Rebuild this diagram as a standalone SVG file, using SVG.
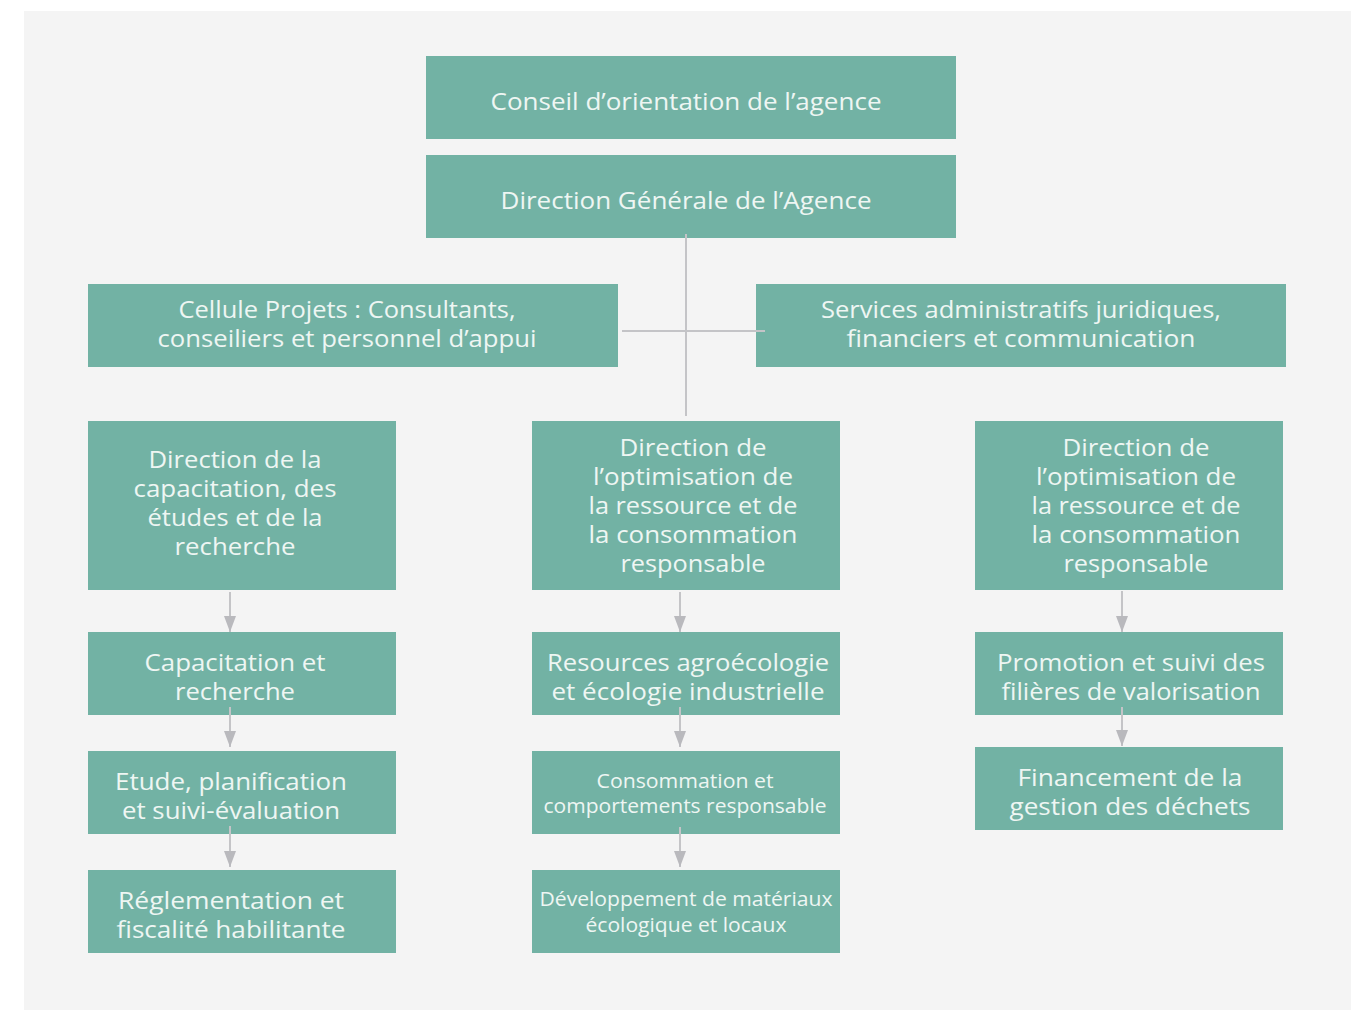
<svg xmlns="http://www.w3.org/2000/svg" width="1364" height="1011" viewBox="0 0 1364 1011">
<defs>
<style>
.box{fill:#72b2a4}
.t{font-family:"Open Sans","Noto Sans","DejaVu Sans",sans-serif;font-size:23px;fill:#eef6f3;text-anchor:middle}
.s{font-size:19.5px}
.ln{stroke:#c4c4c7;stroke-width:2;fill:none}
.ar{stroke:#c4c4c7;stroke-width:2;fill:none;marker-end:url(#ah)}
</style>
<marker id="ah" markerUnits="userSpaceOnUse" markerWidth="16" markerHeight="12" viewBox="0 0 16 12" refX="16" refY="6" orient="auto">
<path d="M0,0 L16,6 L0,12 z" fill="#b9b9bd"/>
</marker>
</defs>
<rect x="0" y="0" width="1364" height="1011" fill="#ffffff"/>
<rect x="24" y="11" width="1327" height="999" fill="#f4f4f4"/>

<g id="conseil">
<rect class="box" x="426" y="56" width="530" height="83"/>
<text class="t" x="686" y="110" textLength="391" lengthAdjust="spacingAndGlyphs">Conseil d’orientation de l’agence</text>
</g>
<g id="direction-generale">
<rect class="box" x="426" y="155" width="530" height="83"/>
<text class="t" x="686" y="209" textLength="371" lengthAdjust="spacingAndGlyphs">Direction Générale de l’Agence</text>
</g>
<g id="cellule-projets">
<rect class="box" x="88" y="284" width="530" height="83"/>
<text class="t" x="347" y="318" textLength="337" lengthAdjust="spacingAndGlyphs">Cellule Projets : Consultants,</text>
<text class="t" x="347" y="347" textLength="379" lengthAdjust="spacingAndGlyphs">conseiliers et personnel d’appui</text>
</g>
<g id="services-admin">
<rect class="box" x="756" y="284" width="530" height="83"/>
<text class="t" x="1021" y="318" textLength="400" lengthAdjust="spacingAndGlyphs">Services administratifs juridiques,</text>
<text class="t" x="1021" y="347" textLength="349" lengthAdjust="spacingAndGlyphs">financiers et communication</text>
</g>

<g id="dir-capacitation">
<rect class="box" x="88" y="421" width="308" height="169"/>
<text class="t" x="235" y="468" textLength="173" lengthAdjust="spacingAndGlyphs">Direction de la</text>
<text class="t" x="235" y="497" textLength="203" lengthAdjust="spacingAndGlyphs">capacitation, des</text>
<text class="t" x="235" y="526" textLength="175" lengthAdjust="spacingAndGlyphs">études et de la</text>
<text class="t" x="235" y="555" textLength="121" lengthAdjust="spacingAndGlyphs">recherche</text>
</g>
<g id="dir-optimisation-1">
<rect class="box" x="532" y="421" width="308" height="169"/>
<text class="t" x="693" y="456" textLength="147" lengthAdjust="spacingAndGlyphs">Direction de</text>
<text class="t" x="693" y="485" textLength="200" lengthAdjust="spacingAndGlyphs">l’optimisation de</text>
<text class="t" x="693" y="514" textLength="209" lengthAdjust="spacingAndGlyphs">la ressource et de</text>
<text class="t" x="693" y="543" textLength="209" lengthAdjust="spacingAndGlyphs">la consommation</text>
<text class="t" x="693" y="572" textLength="145" lengthAdjust="spacingAndGlyphs">responsable</text>
</g>
<g id="dir-optimisation-2">
<rect class="box" x="975" y="421" width="308" height="169"/>
<text class="t" x="1136" y="456" textLength="147" lengthAdjust="spacingAndGlyphs">Direction de</text>
<text class="t" x="1136" y="485" textLength="200" lengthAdjust="spacingAndGlyphs">l’optimisation de</text>
<text class="t" x="1136" y="514" textLength="209" lengthAdjust="spacingAndGlyphs">la ressource et de</text>
<text class="t" x="1136" y="543" textLength="209" lengthAdjust="spacingAndGlyphs">la consommation</text>
<text class="t" x="1136" y="572" textLength="145" lengthAdjust="spacingAndGlyphs">responsable</text>
</g>

<g id="capacitation-recherche">
<rect class="box" x="88" y="632" width="308" height="83"/>
<text class="t" x="235" y="671" textLength="181" lengthAdjust="spacingAndGlyphs">Capacitation et</text>
<text class="t" x="235" y="700" textLength="120" lengthAdjust="spacingAndGlyphs">recherche</text>
</g>
<g id="resources-agroecologie">
<rect class="box" x="532" y="632" width="308" height="83"/>
<text class="t" x="688" y="671" textLength="282" lengthAdjust="spacingAndGlyphs">Resources agroécologie</text>
<text class="t" x="688" y="700" textLength="273" lengthAdjust="spacingAndGlyphs">et écologie industrielle</text>
</g>
<g id="promotion-filieres">
<rect class="box" x="975" y="632" width="308" height="83"/>
<text class="t" x="1131" y="671" textLength="268" lengthAdjust="spacingAndGlyphs">Promotion et suivi des</text>
<text class="t" x="1131" y="700" textLength="259" lengthAdjust="spacingAndGlyphs">filières de valorisation</text>
</g>

<g id="etude-planification">
<rect class="box" x="88" y="751" width="308" height="83"/>
<text class="t" x="231" y="790" textLength="232" lengthAdjust="spacingAndGlyphs">Etude, planification</text>
<text class="t" x="231" y="819" textLength="218" lengthAdjust="spacingAndGlyphs">et suivi-évaluation</text>
</g>
<g id="consommation-comportements">
<rect class="box" x="532" y="751" width="308" height="83"/>
<text class="t s" x="685" y="788" textLength="177" lengthAdjust="spacingAndGlyphs">Consommation et</text>
<text class="t s" x="685" y="813" textLength="283" lengthAdjust="spacingAndGlyphs">comportements responsable</text>
</g>
<g id="financement-dechets">
<rect class="box" x="975" y="747" width="308" height="83"/>
<text class="t" x="1130" y="786" textLength="225" lengthAdjust="spacingAndGlyphs">Financement de la</text>
<text class="t" x="1130" y="815" textLength="241" lengthAdjust="spacingAndGlyphs">gestion des déchets</text>
</g>

<g id="reglementation-fiscalite">
<rect class="box" x="88" y="870" width="308" height="83"/>
<text class="t" x="231" y="909" textLength="226" lengthAdjust="spacingAndGlyphs">Réglementation et</text>
<text class="t" x="231" y="938" textLength="229" lengthAdjust="spacingAndGlyphs">fiscalité habilitante</text>
</g>
<g id="developpement-materiaux">
<rect class="box" x="532" y="870" width="308" height="83"/>
<text class="t s" x="686" y="906" textLength="293" lengthAdjust="spacingAndGlyphs">Développement de matériaux</text>
<text class="t s" x="686" y="932" textLength="201" lengthAdjust="spacingAndGlyphs">écologique et locaux</text>
</g>

<g id="connectors">
<line class="ln" x1="686" y1="234" x2="686" y2="416"/>
<line class="ln" x1="622" y1="331" x2="765" y2="331"/>
<line class="ar" x1="230" y1="592" x2="230" y2="632"/>
<line class="ar" x1="230" y1="707" x2="230" y2="747"/>
<line class="ar" x1="230" y1="826" x2="230" y2="867"/>
<line class="ar" x1="680" y1="592" x2="680" y2="632"/>
<line class="ar" x1="680" y1="707" x2="680" y2="747"/>
<line class="ar" x1="680" y1="827" x2="680" y2="867"/>
<line class="ar" x1="1122" y1="591" x2="1122" y2="632"/>
<line class="ar" x1="1122" y1="707" x2="1122" y2="746"/>
</g>
</svg>
